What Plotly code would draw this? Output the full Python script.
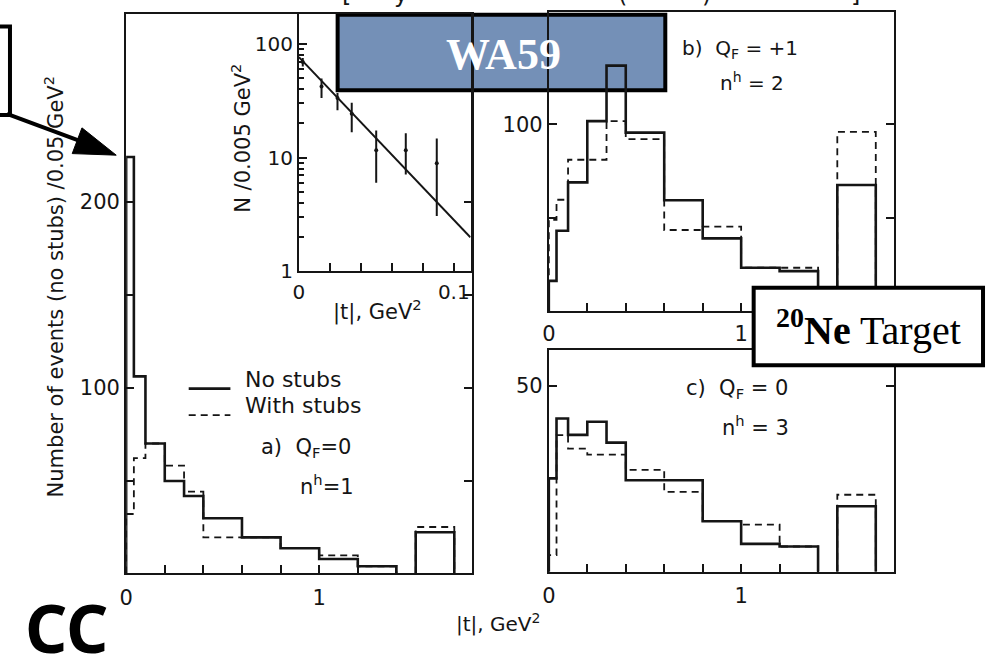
import plotly.graph_objects as go

W, H = 986, 667

# ---------------- data ----------------
bin_edges = [0, 0.04, 0.1, 0.2, 0.3, 0.4, 0.6, 0.8, 1.0, 1.2, 1.4]
overflow_edges = [1.5, 1.7]

a_no_stubs = [224, 106, 69.9, 49.7, 41.7, 29.7, 19.4, 13.6, 7.8, 3.9]
a_with_stubs = [32, 62, 69.9, 58, 44, 19.4, 19.4, 13.6, 9.7, 3.9]
a_overflow_no, a_overflow_with = 22.2, 25

b_no_stubs = [16.3, 43.1, 69, 101.8, 131.5, 95.6, 59.4, 39, 23.3, 21.5]
b_with_stubs = [49, 59.7, 81.1, 81.1, 101.8, 92.1, 43.5, 45.3, 23.3, 23.3]
b_overflow_no, b_overflow_with = 67.6, 96

c_no_stubs = [25.1, 41.2, 36.8, 40.3, 34.7, 24.6, 24.6, 13.6, 7.5, 6.8]
c_with_stubs = [4.5, 36.7, 33.1, 31.5, 31.5, 27.4, 21.5, 13.6, 12.7, 6.8]
c_overflow_no, c_overflow_with = 17.6, 20.7

inset_t = [0.0025, 0.0146, 0.0249, 0.0341, 0.0499, 0.069, 0.089]
inset_n = [69.5, 42.4, 33.6, 24.4, 11.6, 11.6, 8.9]
inset_err_up = [6, 7.5, 3.5, 6, 5.7, 4.8, 5.8]
inset_err_dn = [6, 8.8, 7.5, 7.7, 5.6, 4.5, 5.85]
fit_t = [0, 0.1107]
fit_n = [76.8, 1.98]

x_tickvals = [0, 1]
x_ticktext = ["0", "1"]
x_minor = [0.2, 0.4, 0.6, 0.8, 1.2, 1.4]
a_y_tickvals = [100, 200]
a_y_minor = [50, 150]
b_y_tickvals = [100]
b_y_minor = [50]
c_y_tickvals = [50]
c_y_minor = []
inset_x_tickvals = [0, 0.1]
inset_x_ticktext = ["0", "0.1"]
inset_x_minor = [0.02, 0.04, 0.06, 0.08]
inset_y_tickvals = [1, 10, 100]
inset_y_minor = [2, 3, 4, 5, 6, 7, 8, 9, 20, 30, 40, 50, 60, 70, 80, 90, 200]

INK = "#151515"
FONT = "DejaVu Sans"


def P(px, py):
    return px / W, 1 - py / H


def step_xy(edges, vals):
    xs = [edges[0]] + list(edges)
    ys = [0] + list(vals) + [0]
    return xs, ys


def box_xy(edges, h):
    return [edges[0], edges[0], edges[1], edges[1]], [0, h, h, 0]


fig = go.Figure()


def add_hist(no, withs, ov_no, ov_with, xa, ya):
    for vals, ov, dash, w in ((withs, ov_with, "7px,5px", 1.8), (no, ov_no, "solid", 2.6)):
        xs, ys = step_xy(bin_edges, vals)
        fig.add_trace(go.Scatter(x=xs, y=ys, mode="lines", line_shape="hv",
                                 line=dict(color=INK, width=w, dash=dash),
                                 xaxis=xa, yaxis=ya, showlegend=False, hoverinfo="skip"))
        bx, by = box_xy(overflow_edges, ov)
        fig.add_trace(go.Scatter(x=bx, y=by, mode="lines",
                                 line=dict(color=INK, width=w, dash=dash),
                                 xaxis=xa, yaxis=ya, showlegend=False, hoverinfo="skip"))


add_hist(a_no_stubs, a_with_stubs, a_overflow_no, a_overflow_with, "x", "y")
add_hist(b_no_stubs, b_with_stubs, b_overflow_no, b_overflow_with, "x3", "y3")
add_hist(c_no_stubs, c_with_stubs, c_overflow_no, c_overflow_with, "x4", "y4")

# inset
fig.add_trace(go.Scatter(x=fit_t, y=fit_n, mode="lines", line=dict(color=INK, width=2),
                         xaxis="x2", yaxis="y2", showlegend=False))
fig.add_trace(go.Scatter(x=inset_t, y=inset_n, mode="markers",
                         marker=dict(color=INK, size=4),
                         error_y=dict(type="data", symmetric=False, array=inset_err_up,
                                      arrayminus=inset_err_dn, color=INK, thickness=2, width=0),
                         xaxis="x2", yaxis="y2", showlegend=False))


def axis(domain, rng, tickvals, ticktext, minor_vals, anchor, mirror, size=21, typ="linear",
         minor_len=8, standoff=0):
    d = dict(domain=domain, range=rng, type=typ, anchor=anchor,
             showgrid=False, zeroline=False, showline=True, linecolor=INK, linewidth=2,
             mirror=mirror, ticks="inside", ticklen=8, tickwidth=2, tickcolor=INK,
             tickmode="array", tickvals=tickvals, ticktext=ticktext,
             tickfont=dict(family=FONT, size=size, color=INK))
    if standoff:
        d["ticklabelstandoff"] = standoff
    if minor_vals:
        d["minor"] = dict(ticks="inside", ticklen=minor_len, tickwidth=2 if minor_len > 6 else 1.5,
                          tickcolor=INK, tickmode="array", tickvals=minor_vals, showgrid=False)
    return d


xa_dom = [120 / W, 468 / W]
ya_dom = [1 - 584 / H, 1 - 14 / H]
xi_dom = [294 / W, 467 / W]
yi_dom = [1 - 276 / H, 1 - 14 / H]
xb_dom = [545.7 / W, 893 / W]
yb_dom = [1 - 317 / H, 1 - 12 / H]
yc_dom = [1 - 582.3 / H, 1 - 356 / H]

layout = dict(
    width=W, height=H, margin=dict(l=0, r=0, t=0, b=0),
    paper_bgcolor="white", plot_bgcolor="rgba(0,0,0,0)",
    xaxis=axis(xa_dom, [0, 1.79], x_tickvals, x_ticktext, x_minor, "y", True, standoff=4),
    yaxis=axis(ya_dom, [0, 301], a_y_tickvals, ["100", "200"], a_y_minor, "x", "ticks"),
    xaxis2=axis(xi_dom, [0, 0.1109], inset_x_tickvals, inset_x_ticktext, inset_x_minor,
                "y2", True, 20, standoff=2),
    yaxis2=axis(yi_dom, [0, 2.268], inset_y_tickvals, ["1", "10", "100"], inset_y_minor,
                "x2", True, 20, "log", 5),
    xaxis3=axis(xb_dom, [0, 1.793], x_tickvals, x_ticktext, x_minor, "y3", True, standoff=3),
    yaxis3=axis(yb_dom, [0, 160.3], b_y_tickvals, ["100"], b_y_minor, "x3", "ticks"),
    xaxis4=axis(xb_dom, [0, 1.793], x_tickvals, x_ticktext, x_minor, "y4", True, standoff=4),
    yaxis4=axis(yc_dom, [0, 59.7], c_y_tickvals, ["50"], c_y_minor, "x4", "ticks"),
)
fig.update_layout(**layout)

anns = []


def ann(text, px, py, size=21, family=FONT, xanchor="center", yanchor="middle",
        angle=0, color=INK):
    x, y = P(px, py)
    anns.append(dict(text=text, x=x, y=y, xref="paper", yref="paper", showarrow=False,
                     xanchor=xanchor, yanchor=yanchor, textangle=angle,
                     font=dict(family=family, size=size, color=color)))


# axis titles
ann("Number of events (no stubs) /0.05 GeV<sup>2</sup>", 47, 292, 21, angle=-90)
ann("N /0.005 GeV<sup>2</sup>", 236, 141, 21, angle=-90)
ann("|t|, GeV<sup>2</sup>", 373, 316, 21)
ann("|t|, GeV<sup>2</sup>", 495, 634, 20)

# legend
ann("No stubs", 238, 386, 22, xanchor="left")
ann("With stubs", 238, 413, 22, xanchor="left")

# panel labels
ann("a)  Q<sub>F</sub>=0", 254, 456, 21, xanchor="left")
ann("n<sup>h</sup>=1", 293, 494, 21, xanchor="left")
ann("b)  Q<sub>F</sub> = +1", 678, 50, 20, xanchor="left")
ann("n<sup>h</sup> = 2", 716, 84, 20, xanchor="left")
ann("c)  Q<sub>F</sub> = 0", 682, 396, 21, xanchor="left")
ann("n<sup>h</sup> = 3", 718, 434, 21, xanchor="left")

# cut-off title fragments at the very top (cut in the reference as well)
for ch, px in (("[", 342), ("y", 397), ("(", 620), (")", 704), ("]", 855)):
    ann(ch, px, -6, 24)

# overlays
ann("<b>WA59</b>", 500, 55, 44, family="Liberation Serif", color="white")
ann("<b><sup>20</sup>Ne</b> Target", 868, 333, 40, family="Liberation Serif", color="black")
ann("<b>CC</b>", 60, 638, 66, family="Noto Sans", color="black")

fig.update_layout(annotations=anns)

shapes = []


def pline(p0, p1, width=2, dash="solid"):
    x0, y0 = P(*p0)
    x1, y1 = P(*p1)
    shapes.append(dict(type="line", xref="paper", yref="paper", x0=x0, y0=y0, x1=x1, y1=y1,
                       line=dict(color=INK, width=width, dash=dash)))


# legend samples
pline((183, 395.7), (225, 395.7), 2.6)
pline((183, 422.7), (225, 422.7), 1.8, "7px,5px")

# WA59 box (under the plot lines)
x0, y0 = P(333, 92)
x1, y1 = P(663, 15)
shapes.append(dict(type="rect", xref="paper", yref="paper", x0=x0, y0=y0, x1=x1, y1=y1,
                   layer="below", fillcolor="#7490B7", line=dict(color="black", width=4)))
# Ne target box (opaque, above)
x0, y0 = P(752, 372)
x1, y1 = P(983, 293)
shapes.append(dict(type="rect", xref="paper", yref="paper", x0=x0, y0=y0, x1=x1, y1=y1,
                   layer="above", fillcolor="white", line=dict(color="black", width=4)))
# partial box on the left edge
x0, y0 = P(-20, 117)
x1, y1 = P(3, 27)
shapes.append(dict(type="rect", xref="paper", yref="paper", x0=x0, y0=y0, x1=x1, y1=y1,
                   layer="above", line=dict(color="black", width=4)))
# arrow
x0, y0 = P(0, 116)
x1, y1 = P(80, 146)
shapes.append(dict(type="line", xref="paper", yref="paper", x0=x0, y0=y0, x1=x1, y1=y1,
                   layer="above", line=dict(color="black", width=4)))
tri = [P(110, 158), P(65.7, 156.4), P(75.5, 130.2)]
path = "M {} {} L {} {} L {} {} Z".format(tri[0][0], tri[0][1], tri[1][0], tri[1][1],
                                           tri[2][0], tri[2][1])
shapes.append(dict(type="path", xref="paper", yref="paper", path=path, layer="above",
                   fillcolor="black", line=dict(color="black", width=1)))

fig.update_layout(shapes=shapes)

fig.write_html("out.html",
               config={"displayModeBar": False},
               post_script="document.body.style.margin='0';"
                           "document.body.style.overflow='hidden';")
